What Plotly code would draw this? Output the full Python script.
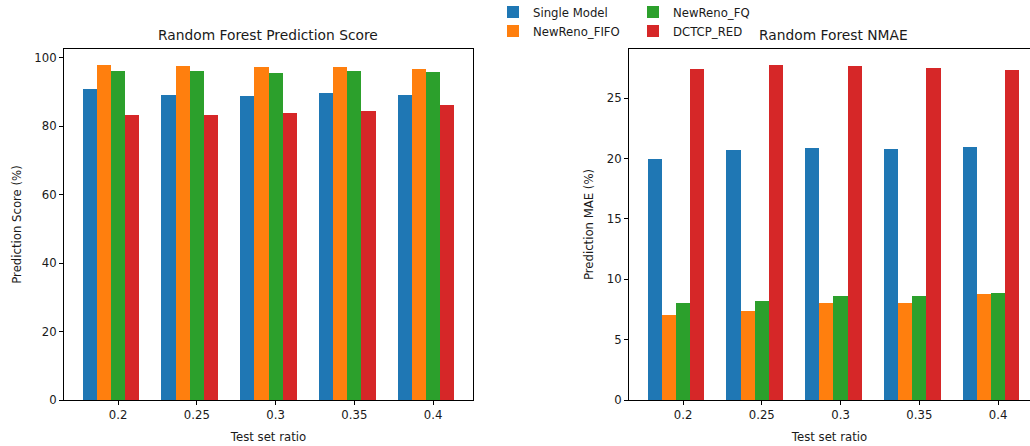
import plotly.graph_objects as go

categories = ["0.2", "0.25", "0.3", "0.35", "0.4"]
series_names = ["Single Model", "NewReno_FIFO", "NewReno_FQ", "DCTCP_RED"]

score_single = [90.9, 89.1, 88.8, 89.7, 89.1]
score_fifo = [97.8, 97.5, 97.2, 97.2, 96.9]
score_fq = [96.1, 96.1, 95.5, 96.1, 95.8]
score_red = [83.2, 83.2, 83.8, 84.4, 86.1]

nmae_single = [19.95, 20.7, 20.86, 20.78, 20.94]
nmae_fifo = [7.04, 7.37, 8.03, 8.03, 8.77]
nmae_fq = [8.03, 8.2, 8.6, 8.6, 8.86]
nmae_red = [27.4, 27.7, 27.65, 27.5, 27.3]

colors = ["#1f77b4", "#ff7f0e", "#2ca02c", "#d62728"]
bar_w = 0.18
offsets = [-2 * bar_w, -bar_w, 0.0, bar_w]
legend_ids = ["legend", "legend", "legend2", "legend2"]

W, H = 1030, 446
FONT = "DejaVu Sans"
TXT = "#1a1a1a"
FS = 11.7
FS_TITLE = 13.8

pos = list(range(len(categories)))

fig = go.Figure()
score_series = [score_single, score_fifo, score_fq, score_red]
nmae_series = [nmae_single, nmae_fifo, nmae_fq, nmae_red]

for k in range(4):
    fig.add_trace(go.Bar(
        x=[p + offsets[k] for p in pos], y=score_series[k], width=bar_w,
        name=series_names[k], marker=dict(color=colors[k], line=dict(width=0)),
        xaxis="x", yaxis="y", showlegend=True, legend=legend_ids[k],
    ))
for k in range(4):
    fig.add_trace(go.Bar(
        x=[p + offsets[k] for p in pos], y=nmae_series[k], width=bar_w,
        name=series_names[k], marker=dict(color=colors[k], line=dict(width=0)),
        xaxis="x2", yaxis="y2", showlegend=False,
    ))

def px_x(v):
    return v / W

def px_y(v):
    return 1 - v / H

tickfont = dict(family=FONT, size=FS, color=TXT)
titlefont = dict(family=FONT, size=FS, color=TXT)
axis_common = dict(
    showgrid=False, zeroline=False, showline=True, linecolor="black", linewidth=1,
    ticks="outside", ticklen=4, tickwidth=1, tickcolor="black", tickfont=tickfont,
    automargin=False,
)

ydom = [px_y(400), px_y(49)]

fig.update_layout(
    width=W, height=H,
    margin=dict(l=0, r=0, t=0, b=0, autoexpand=False),
    paper_bgcolor="white", plot_bgcolor="white",
    barmode="overlay", bargap=0,
    font=dict(family=FONT, size=FS, color=TXT),
    xaxis=dict(domain=[px_x(64), px_x(473)], range=[-0.686, 4.506],
               tickvals=pos, ticktext=categories, mirror=True, anchor="y",
               title=dict(text="Test set ratio", font=titlefont, standoff=11),
               **axis_common),
    yaxis=dict(domain=ydom, range=[0, 102.6], tickvals=[0, 20, 40, 60, 80, 100],
               mirror=True, anchor="x",
               title=dict(text="Prediction Score (%)", font=titlefont, standoff=10),
               **axis_common),
    xaxis2=dict(domain=[px_x(629), 1.0], range=[-0.686, 4.405],
                tickvals=pos, ticktext=categories, mirror=True, anchor="y2",
                title=dict(text="Test set ratio", font=titlefont, standoff=11),
                **axis_common),
    yaxis2=dict(domain=ydom, range=[0, 29.06], tickvals=[0, 5, 10, 15, 20, 25],
                mirror=False, anchor="x2",
                title=dict(text="Prediction MAE (%)", font=titlefont, standoff=10),
                **axis_common),
    legend=dict(x=px_x(493), y=px_y(-2.5), xanchor="left", yanchor="top",
                font=dict(family=FONT, size=FS, color=TXT), bgcolor="rgba(0,0,0,0)",
                tracegroupgap=0, itemwidth=30),
    legend2=dict(x=px_x(633), y=px_y(-2.5), xanchor="left", yanchor="top",
                 font=dict(family=FONT, size=FS, color=TXT), bgcolor="rgba(0,0,0,0)",
                 tracegroupgap=0, itemwidth=30),
    annotations=[
        dict(text="Random Forest Prediction Score", x=px_x(268), y=px_y(35), xref="paper", yref="paper",
             showarrow=False, xanchor="center", yanchor="middle", font=dict(family=FONT, size=FS_TITLE, color=TXT)),
        dict(text="Random Forest NMAE", x=px_x(833), y=px_y(35), xref="paper", yref="paper",
             showarrow=False, xanchor="center", yanchor="middle", font=dict(family=FONT, size=FS_TITLE, color=TXT)),
    ],
)

fig.write_html("out.html", config={"displayModeBar": False},
               post_script="document.body.style.margin='0';document.body.style.padding='0';")
